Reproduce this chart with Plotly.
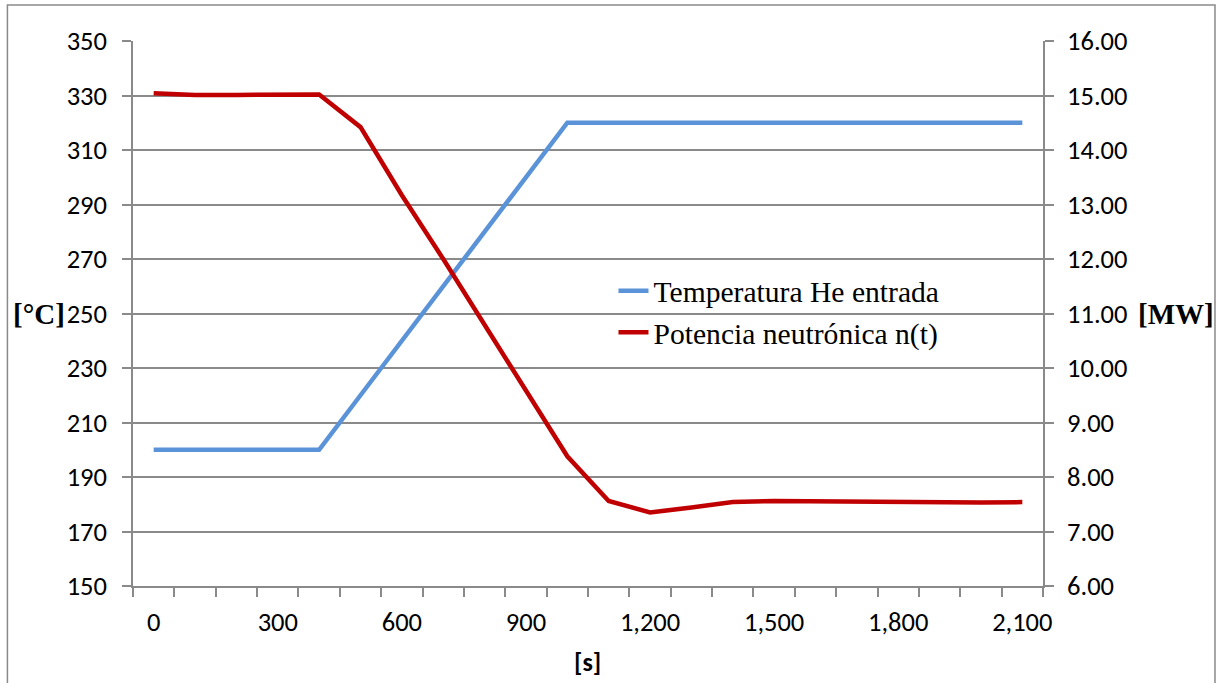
import plotly.graph_objects as go

# ---- data ----
tiempo_s = [0, 100, 200, 300, 400, 500, 600, 700, 800, 900, 1000,
            1100, 1200, 1300, 1400, 1500, 1600, 1700, 1800, 1900, 2000, 2100]
temperatura_he = [200, 200, 200, 200, 200, 220, 240, 260, 280, 300, 320,
                  320, 320, 320, 320, 320, 320, 320, 320, 320, 320, 320]
potencia_mw = [15.04, 15.01, 15.01, 15.01, 15.02, 14.42, 13.17, 12.00, 10.80, 9.57, 8.38,
               7.56, 7.35, 7.44, 7.54, 7.56, 7.55, 7.54, 7.53, 7.53, 7.53, 7.54]
x_tick_labels = [0, 300, 600, 900, 1200, 1500, 1800, 2100]
serie_temp = "Temperatura He entrada"
serie_pot = "Potencia neutrónica n(t)"

GRID = "#8a8a8a"
TICKFONT = dict(family="Carlito, Calibri, Lato, sans-serif", size=26.5, color="#000000")
SERIF = "Liberation Serif, Times New Roman, serif"

fig = go.Figure()
fig.add_trace(go.Scatter(x=tiempo_s, y=temperatura_he, name=serie_temp, mode="lines",
                         line=dict(color="#5B93D9", width=4.5), yaxis="y"))
fig.add_trace(go.Scatter(x=tiempo_s, y=potencia_mw, name=serie_pot, mode="lines",
                         line=dict(color="#C00000", width=4.5), yaxis="y2"))

fig.update_layout(
    width=1218, height=683,
    margin=dict(l=133, r=175, t=41, b=97),
    paper_bgcolor="white", plot_bgcolor="white",
    showlegend=True,
    legend=dict(x=0.528, y=0.589, xanchor="left", yanchor="top",
                font=dict(family=SERIF, size=29.6, color="#000"),
                bgcolor="rgba(0,0,0,0)"),
    xaxis=dict(range=[-50, 2150], tickmode="array", tickvals=x_tick_labels,
               tickformat=",", ticks="", showgrid=False, zeroline=False,
               showline=True, linecolor=GRID, linewidth=1.5,
               tickfont=TICKFONT, ticklabelstandoff=11,
               minor=dict(ticks="outside", tick0=-50, dtick=100, ticklen=9,
                          tickcolor=GRID, tickwidth=1.5, showgrid=False)),
    yaxis=dict(range=[150, 350], dtick=20, tick0=150, ticks="outside", ticklen=9,
               tickcolor=GRID, tickwidth=1.5, showline=True, linecolor=GRID, linewidth=1.5,
               showgrid=True, gridcolor=GRID, gridwidth=1.5, zeroline=False,
               tickfont=TICKFONT, ticklabelstandoff=10),
    yaxis2=dict(range=[6, 16], dtick=1, tick0=6, tickformat=".2f", overlaying="y", side="right",
                ticks="outside", ticklen=9, tickcolor=GRID, tickwidth=1.5,
                showline=True, linecolor=GRID, linewidth=1.5, showgrid=False, zeroline=False,
                tickfont=TICKFONT, ticklabelstandoff=8),
)

fig.add_annotation(text="<b>[°C]</b>", xref="paper", yref="y", x=-0.072, y=250,
                   xanchor="right", yanchor="middle", showarrow=False,
                   font=dict(family=SERIF, size=29, color="#000"))
fig.add_annotation(text="<b>[MW]</b>", xref="paper", yref="y", x=1.1026, y=250,
                   xanchor="left", yanchor="middle", showarrow=False,
                   font=dict(family=SERIF, size=29, color="#000"))
fig.add_annotation(text="<b>[s]</b>", xref="paper", yref="paper", x=0.499, y=-0.139,
                   xanchor="center", yanchor="middle", showarrow=False,
                   font=dict(family="Carlito, Calibri, Lato, sans-serif", size=26, color="#000"))

# outer chart border
fig.add_shape(type="rect", xref="paper", yref="paper", x0=-0.138, x1=1.189, y0=-0.2, y1=1.066,
              line=dict(color=GRID, width=1.5), fillcolor="rgba(0,0,0,0)", layer="below")

fig.write_html("out.html", config={"displayModeBar": False},
               post_script="document.body.style.margin='0';")
